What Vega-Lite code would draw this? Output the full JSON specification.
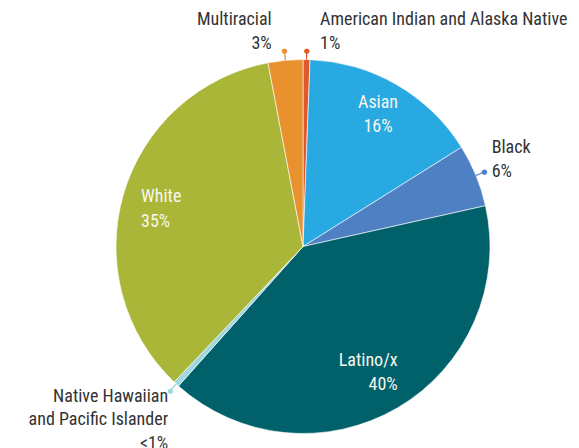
{
  "$schema": "https://vega.github.io/schema/vega-lite/v6.json",
  "width": 400,
  "height": 400,
  "autosize": "none",
  "padding": {"left": 103, "top": 46.5, "right": 76, "bottom": 1.5},
  "background": "white",
  "config": {
    "view": {"stroke": null},
    "text": {"font": "Roboto Condensed", "fontSize": 18, "fontWeight": 400, "lineHeight": 24.5, "lineBreak": "\n", "baseline": "middle"}
  },
  "data": {
    "values": [
      {"cat": "American Indian and Alaska Native", "pct": 0.6, "label": "American Indian and Alaska Native\n1%"},
      {"cat": "Asian", "pct": 15.5, "label": "Asian\n16%"},
      {"cat": "Black", "pct": 5.4, "label": "Black\n6%"},
      {"cat": "Latino/x", "pct": 40.1, "label": "Latino/x\n40%"},
      {"cat": "Native Hawaiian and Pacific Islander", "pct": 0.5, "label": "Native Hawaiian\nand Pacific Islander\n<1%"},
      {"cat": "White", "pct": 34.9, "label": "White\n35%"},
      {"cat": "Multiracial", "pct": 3.0, "label": "Multiracial\n3%"}
    ]
  },
  "transform": [{"window": [{"op": "row_number", "as": "idx"}]}],
  "encoding": {
    "theta": {"field": "pct", "type": "quantitative", "stack": true},
    "order": {"field": "idx", "type": "quantitative"},
    "color": {
      "field": "cat",
      "type": "nominal",
      "legend": null,
      "scale": {
        "domain": ["American Indian and Alaska Native", "Asian", "Black", "Latino/x", "Native Hawaiian and Pacific Islander", "White", "Multiracial"],
        "range": ["#e0592a", "#29a9e1", "#5080c4", "#00616b", "#9fd7e0", "#a9b637", "#e8912e"]
      }
    }
  },
  "layer": [
    {"mark": {"type": "arc", "outerRadius": 187, "stroke": "white", "strokeWidth": 0.6}},
    {
      "mark": {"type": "arc", "filled": false, "innerRadius": 187, "outerRadius": 196, "padAngle": 3, "strokeWidth": 1.2},
      "encoding": {
        "strokeOpacity": {"condition": {"test": "datum.cat === 'Black' || datum.cat === 'Multiracial' || datum.cat === 'American Indian and Alaska Native' || datum.cat === 'Native Hawaiian and Pacific Islander'", "value": 1}, "value": 0}
      }
    },
    {
      "mark": {"type": "text", "radius": 196, "align": "center", "fontSize": 7, "fontWeight": 400, "font": "DejaVu Sans"},
      "encoding": {"text": {"condition": {"test": "datum.cat === 'Black' || datum.cat === 'Multiracial' || datum.cat === 'American Indian and Alaska Native' || datum.cat === 'Native Hawaiian and Pacific Islander'", "value": "●"}, "value": ""}}
    },
    {
      "mark": {"type": "text", "radius": 165.8, "align": "center", "dx": -8},
      "encoding": {"color": {"value": "#f7f7ef"}, "text": {"condition": {"test": "datum.cat === 'Asian'", "field": "label"}, "value": ""}}
    },
    {
      "mark": {"type": "text", "radius": 175.3, "align": "left", "dx": 6.2},
      "encoding": {"color": {"value": "#f7f7ef"}, "text": {"condition": {"test": "datum.cat === 'White'", "field": "label"}, "value": ""}}
    },
    {
      "mark": {"type": "text", "radius": 132.2, "align": "right", "dx": 27.8},
      "encoding": {"color": {"value": "#f7f7ef"}, "text": {"condition": {"test": "datum.cat === 'Latino/x'", "field": "label"}, "value": ""}}
    },
    {
      "mark": {"type": "text", "radius": 210, "align": "left", "dx": -5.6, "dy": -18.8},
      "encoding": {"color": {"value": "#333333"}, "text": {"condition": {"test": "datum.cat === 'Black'", "field": "label"}, "value": ""}}
    },
    {
      "mark": {"type": "text", "radius": 210, "align": "right", "dx": -11.5, "dy": -17.7},
      "encoding": {"color": {"value": "#333333"}, "text": {"condition": {"test": "datum.cat === 'Multiracial'", "field": "label"}, "value": ""}}
    },
    {
      "mark": {"type": "text", "radius": 210, "align": "left", "dx": 13.1, "dy": -16.8},
      "encoding": {"color": {"value": "#333333"}, "text": {"condition": {"test": "datum.cat === 'American Indian and Alaska Native'", "field": "label"}, "value": ""}}
    },
    {
      "mark": {"type": "text", "radius": 210, "align": "right", "dx": 7.5, "dy": -4.3, "lineHeight": 23.5},
      "encoding": {"color": {"value": "#333333"}, "text": {"condition": {"test": "datum.cat === 'Native Hawaiian and Pacific Islander'", "field": "label"}, "value": ""}}
    }
  ]
}
